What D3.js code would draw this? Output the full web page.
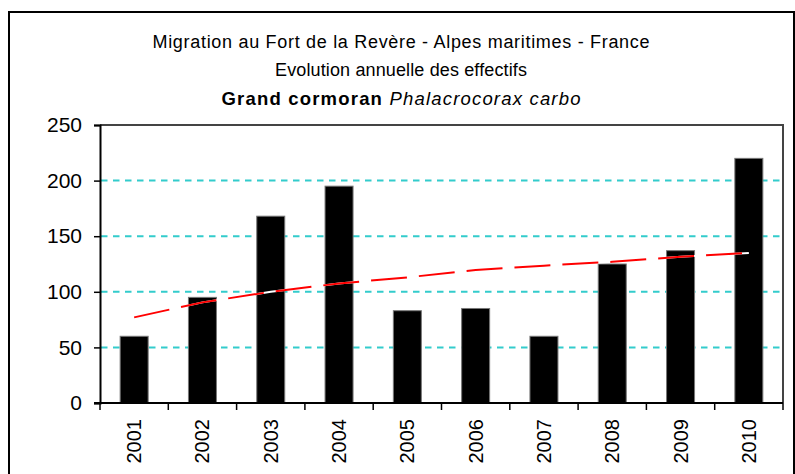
<!DOCTYPE html>
<html>
<head>
<meta charset="utf-8">
<script src="https://cdn.jsdelivr.net/npm/d3@7"></script>
<style>
  html, body { margin: 0; padding: 0; background: #fff; }
  svg { display: block; }
  text { font-family: "Liberation Sans", Arial, sans-serif; fill: #000; }
</style>
</head>
<body>
<svg id="chart" width="795" height="474"></svg>
<script>
// ---- data ----
const years = ["2001","2002","2003","2004","2005","2006","2007","2008","2009","2010"];
const counts = [60, 95, 168, 195, 83, 85, 60, 125, 137, 220];
const trend = [77, 90.5, 100, 107.5, 113, 119.5, 123.5, 127, 131.5, 135];
const yTicks = [0, 50, 100, 150, 200, 250];
const titleLine1 = "Migration au Fort de la Revère - Alpes maritimes - France";
const titleLine2 = "Evolution annuelle des effectifs";
const titleBold = "Grand cormoran";
const titleItalic = "Phalacrocorax carbo";

// ---- layout ----
const W = 795, H = 474;
const plot = { left: 100, right: 783, top: 125, bottom: 403 };
const svg = d3.select("#chart");

// outer chart border
svg.append("rect")
  .attr("x", 9).attr("y", 12).attr("width", 785).attr("height", 500)
  .attr("fill", "#fff").attr("stroke", "#000").attr("stroke-width", 2);

const x = d3.scaleBand().domain(years)
  .range([plot.left, plot.right]).paddingInner(0.59).paddingOuter(0.295);
const y = d3.scaleLinear().domain([0, 250]).range([plot.bottom, plot.top]);

// gridlines
svg.append("g").selectAll("line")
  .data(yTicks.filter(t => t > 0 && t < 250))
  .join("line")
  .attr("x1", plot.left + 1).attr("x2", plot.right)
  .attr("y1", d => y(d)).attr("y2", d => y(d))
  .attr("stroke", "#33cccc").attr("stroke-width", 2)
  .attr("stroke-dasharray", "6.5,5.5");

// plot frame (top & right)
svg.append("path")
  .attr("d", `M${plot.left},${plot.top}H${plot.right}V${plot.bottom}`)
  .attr("fill", "none").attr("stroke", "#444").attr("stroke-width", 2);

// bars
svg.append("g").selectAll("rect")
  .data(counts)
  .join("rect")
  .attr("x", (d, i) => x(years[i]))
  .attr("width", x.bandwidth())
  .attr("y", d => y(d))
  .attr("height", d => y(0) - y(d))
  .attr("fill", "#000").attr("stroke", "#777").attr("stroke-width", 1);

// trend line (white underlay shows gaps on bars)
const line = d3.line()
  .x((d, i) => x(years[i]) + x.bandwidth() / 2)
  .y(d => y(d));
svg.append("path").datum(trend)
  .attr("d", line).attr("fill", "none")
  .attr("stroke", "#fff").attr("stroke-width", 2);
svg.append("path").datum(trend)
  .attr("d", line).attr("fill", "none")
  .attr("stroke", "#ff0000").attr("stroke-width", 2)
  .attr("stroke-dasharray", "36,12");

// y axis
const yAxis = d3.axisLeft(y).tickValues(yTicks).tickSize(6).tickPadding(12);
const gy = svg.append("g").attr("transform", `translate(${plot.left},0)`).call(yAxis);
gy.select(".domain").attr("stroke", "#000").attr("stroke-width", 2);
gy.selectAll(".tick line").attr("stroke", "#000").attr("stroke-width", 1.5);
gy.selectAll(".tick text")
  .style("font-family", '"Liberation Sans", Arial, sans-serif')
  .style("font-size", "21px").attr("fill", "#000");

// x axis: ticks at band boundaries
const step = x.step();
const boundaries = d3.range(years.length + 1).map(i => plot.left + i * step);
svg.append("line")
  .attr("x1", plot.left - 6).attr("x2", plot.right)
  .attr("y1", plot.bottom).attr("y2", plot.bottom)
  .attr("stroke", "#000").attr("stroke-width", 2);
svg.append("g").selectAll("line")
  .data(boundaries)
  .join("line")
  .attr("x1", d => d).attr("x2", d => d)
  .attr("y1", plot.bottom).attr("y2", plot.bottom + 7)
  .attr("stroke", "#000").attr("stroke-width", 1.5);

svg.append("g").selectAll("text")
  .data(years)
  .join("text")
  .attr("transform", d => `translate(${x(d) + x.bandwidth() / 2 + 7},${plot.bottom + 16}) rotate(-90)`)
  .attr("text-anchor", "end")
  .style("font-size", "20px")
  .text(d => d);

// titles
const cx = 401;
svg.append("text").attr("x", cx).attr("y", 48)
  .attr("text-anchor", "middle").style("font-size", "18px")
  .attr("textLength", 497).attr("lengthAdjust", "spacing")
  .text(titleLine1);
svg.append("text").attr("x", cx).attr("y", 76)
  .attr("text-anchor", "middle").style("font-size", "18px")
  .attr("textLength", 252).attr("lengthAdjust", "spacing")
  .text(titleLine2);
const t3 = svg.append("text").attr("x", cx).attr("y", 105)
  .attr("text-anchor", "middle").style("font-size", "18.5px")
  .attr("textLength", 359).attr("lengthAdjust", "spacing");
t3.append("tspan").style("font-weight", "bold").text(titleBold + " ");
t3.append("tspan").style("font-style", "italic").text(titleItalic);
</script>
</body>
</html>
